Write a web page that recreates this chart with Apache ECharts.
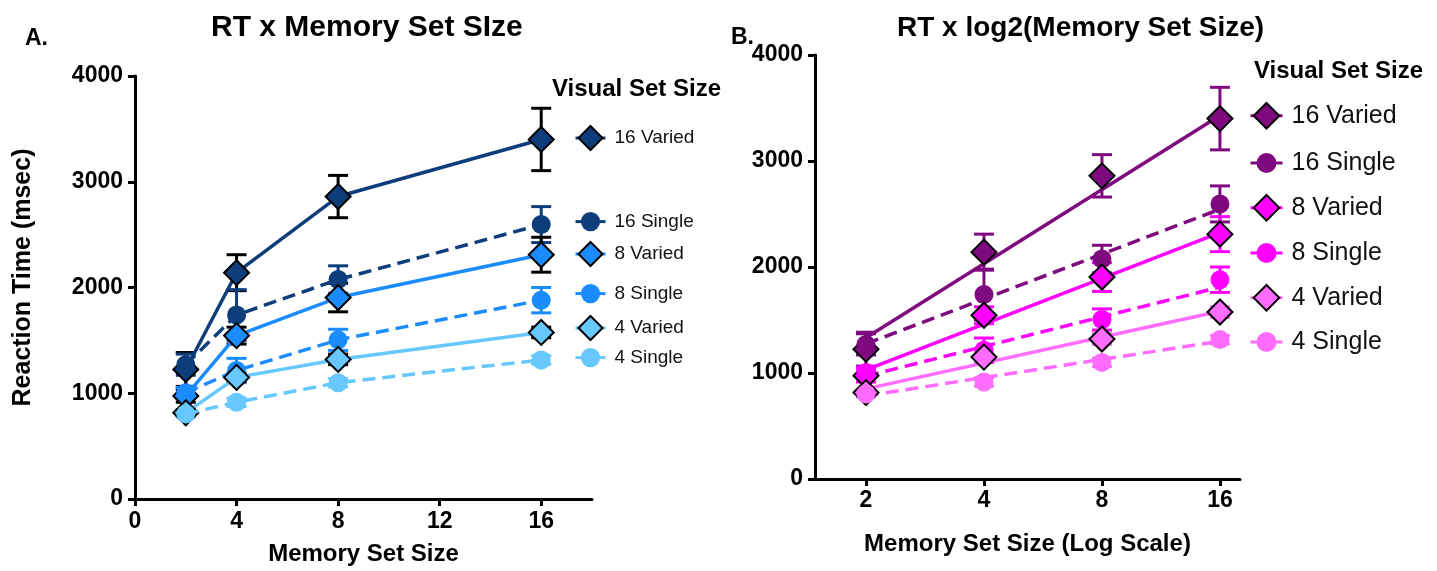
<!DOCTYPE html>
<html>
<head>
<meta charset="utf-8">
<script src="https://cdn.jsdelivr.net/npm/echarts@6/dist/echarts.min.js"></script>
<style>
html,body{margin:0;padding:0;background:#fff;}
#c{width:1437px;height:571px;}
</style>
</head>
<body>
<div id="c"></div>
<script>
// ---------------- DATA ----------------
const memorySizes = [2, 4, 8, 16];
const groupNames = ['16 Varied', '16 Single', '8 Varied', '8 Single', '4 Varied', '4 Single'];

// mean reaction times (msec)
const rt16Varied = [1225, 2140, 2860, 3400];
const rt16Single = [1270, 1740, 2075, 2595];
const rt8Varied  = [975, 1545, 1905, 2310];
const rt8Single  = [1005, 1215, 1505, 1880];
const rt4Varied  = [815, 1150, 1320, 1575];
const rt4Single  = [805, 915, 1100, 1315];

// error bar half-lengths (msec)
const err16Varied = [160, 170, 200, 295];
const err16Single = [100, 240, 130, 170];
const err8Varied  = [60, 80, 135, 165];
const err8Single  = [50, 115, 100, 120];
const err4Varied  = [30, 40, 50, 50];
const err4Single  = [30, 40, 40, 40];

// panel B fitted line values at memory size 2 and 16
const fit16Varied = [1333, 3430];
const fit16Single = [1275, 2545];
const fit8Varied  = [1030, 2325];
const fit8Single  = [970, 1810];
const fit4Varied  = [850, 1582];
const fit4Single  = [785, 1300];

const xTicksA = [0, 4, 8, 12, 16];
const xTicksB = [2, 4, 8, 16];

// ---------------- STYLE ----------------
const FONT = 'Liberation Sans, Arial, sans-serif';
const colorsA = ['#0d3d7a', '#0d3d7a', '#1a8cff', '#1a8cff', '#66c8ff', '#66c8ff'];
const colorsB = ['#7f0a7f', '#7f0a7f', '#ff00ff', '#ff00ff', '#ff6cff', '#ff6cff'];
const isVaried = [true, false, true, false, true, false];
const rts = [rt16Varied, rt16Single, rt8Varied, rt8Single, rt4Varied, rt4Single];
const errs = [err16Varied, err16Single, err8Varied, err8Single, err4Varied, err4Single];
const fits = [fit16Varied, fit16Single, fit8Varied, fit8Single, fit4Varied, fit4Single];

const legendTopA = [140, 224, 256, 296, 330, 360];
const legendTopB = [118, 163, 210, 253, 300, 342];

function errorBarSeries(name, xIdx, data, color) {
  return {
    type: 'custom', name: name, xAxisIndex: xIdx, yAxisIndex: xIdx, z: 1,
    data: data, encode: {x: 0, y: 1}, silent: true,
    renderItem: function (params, api) {
      const x = api.value(0), y = api.value(1), e = api.value(2);
      const t = api.coord([x, y + e]);
      const b = api.coord([x, y - e]);
      const hw = 10;
      const st = {stroke: color, lineWidth: 3};
      return {type: 'group', children: [
        {type: 'line', shape: {x1: t[0], y1: t[1], x2: b[0], y2: b[1]}, style: st},
        {type: 'line', shape: {x1: t[0] - hw, y1: t[1], x2: t[0] + hw, y2: t[1]}, style: st},
        {type: 'line', shape: {x1: b[0] - hw, y1: b[1], x2: b[0] + hw, y2: b[1]}, style: st}
      ]};
    }
  };
}

const series = [];
const legends = [];

// Panel A
groupNames.forEach(function (g, i) {
  const xs = memorySizes;
  const col = colorsA[i];
  series.push(errorBarSeries('errA' + i, 0,
    xs.map(function (x, k) { return [x, rts[i][k], errs[i][k]]; }),
    isVaried[i] ? '#000' : col));
  series.push({
    type: 'line', name: 'A:' + g, xAxisIndex: 0, yAxisIndex: 0, z: 2 + i,
    data: xs.map(function (x, k) { return [x, rts[i][k]]; }),
    symbol: isVaried[i] ? 'diamond' : 'circle',
    symbolSize: isVaried[i] ? 25 : 19,
    itemStyle: isVaried[i] ? {color: col, borderColor: '#000', borderWidth: 2} : {color: col, borderWidth: 0},
    lineStyle: {color: col, width: 3.5, type: isVaried[i] ? 'solid' : [13, 7]},
    emphasis: {disabled: true}, animation: false
  });
  const ih = isVaried[i] ? 30 : 24;
  legends.push({
    data: [{name: 'A:' + g, lineStyle: {width: 3, type: 'solid', opacity: 1}}],
    formatter: function (n) { return n.slice(2); },
    left: 574, top: legendTopA[i] - ih / 2, itemWidth: 30, itemHeight: ih,
    padding: 0, selectedMode: false,
    textStyle: {fontFamily: FONT, fontSize: 19, color: '#111', padding: [0, 0, 0, 4]}
  });
});

// Panel B
groupNames.forEach(function (g, i) {
  const xs = memorySizes.map(function (v) { return Math.log2(v); });
  const col = colorsB[i];
  series.push({
    type: 'line', name: 'fitB' + i, xAxisIndex: 1, yAxisIndex: 1, z: 2 + i,
    data: [[xs[0], fits[i][0]], [xs[xs.length - 1], fits[i][1]]],
    symbol: 'none',
    lineStyle: {color: col, width: 3.5, type: isVaried[i] ? 'solid' : [13, 7]},
    emphasis: {disabled: true}, animation: false, silent: true
  });
  series.push(errorBarSeries('errB' + i, 1,
    xs.map(function (x, k) { return [x, rts[i][k], errs[i][k]]; }), col));
  series.push({
    type: 'line', name: 'B:' + g, xAxisIndex: 1, yAxisIndex: 1, z: 10 + i,
    data: xs.map(function (x, k) { return [x, rts[i][k]]; }),
    symbol: isVaried[i] ? 'diamond' : 'circle',
    symbolSize: isVaried[i] ? 25 : 19,
    itemStyle: isVaried[i] ? {color: col, borderColor: '#000', borderWidth: 2} : {color: col, borderWidth: 0},
    lineStyle: {color: col, width: 3, opacity: 0},
    emphasis: {disabled: true}, animation: false
  });
  const ih = isVaried[i] ? 32 : 25;
  legends.push({
    data: [{name: 'B:' + g, lineStyle: {width: 3, type: 'solid', opacity: 1, color: col}}],
    formatter: function (n) { return n.slice(2); },
    left: 1249, top: legendTopB[i] - ih / 2, itemWidth: 32, itemHeight: ih,
    padding: 0, selectedMode: false,
    textStyle: {fontFamily: FONT, fontSize: 25, color: '#111', padding: [0, 0, 0, 4]}
  });
});

const axisLabel = {fontFamily: FONT, fontSize: 23, fontWeight: 'bold', color: '#000'};
const axisLine = {show: true, lineStyle: {color: '#000', width: 3}};
const axisTick = {show: true, length: 7, lineStyle: {color: '#000', width: 3}};
const nameStyle = {fontFamily: FONT, fontSize: 24, fontWeight: 'bold', color: '#000'};

const option = {
  backgroundColor: '#fff',
  animation: false,
  title: [
    {text: 'A.', left: 20, top: 22, textStyle: {fontFamily: FONT, fontSize: 23, fontWeight: 'bold', color: '#000'}},
    {text: 'B.', left: 726, top: 21, textStyle: {fontFamily: FONT, fontSize: 23, fontWeight: 'bold', color: '#000'}},
    {text: 'RT x Memory Set SIze', left: 206, top: 8, textStyle: {fontFamily: FONT, fontSize: 30, fontWeight: 'bold', color: '#000'}},
    {text: 'RT x log2(Memory Set Size)', left: 892, top: 9, textStyle: {fontFamily: FONT, fontSize: 28, fontWeight: 'bold', color: '#000'}},
    {text: 'Visual Set Size', left: 547, top: 72, textStyle: {fontFamily: FONT, fontSize: 24, fontWeight: 'bold', color: '#000'}},
    {text: 'Visual Set Size', left: 1249, top: 54, textStyle: {fontFamily: FONT, fontSize: 24, fontWeight: 'bold', color: '#000'}}
  ],
  legend: legends,
  grid: [
    {left: 135, right: 845, top: 76, bottom: 71, containLabel: false},
    {left: 815, right: 197, top: 55, bottom: 92, containLabel: false}
  ],
  xAxis: [
    {
      type: 'value', gridIndex: 0, min: 0, max: 18,
      axisLine: axisLine, axisTick: Object.assign({customValues: xTicksA}, axisTick),
      axisLabel: Object.assign({customValues: xTicksA, margin: 11, formatter: function (v) { return String(v); }}, axisLabel),
      splitLine: {show: false},
      name: 'Memory Set Size', nameLocation: 'middle', nameGap: 43, nameTextStyle: nameStyle
    },
    {
      type: 'value', gridIndex: 1, min: 0.568, max: 4.17,
      axisLine: axisLine,
      axisTick: Object.assign({customValues: xTicksB.map(function (v) { return Math.log2(v); })}, axisTick),
      axisLabel: Object.assign({customValues: xTicksB.map(function (v) { return Math.log2(v); }), margin: 10,
        formatter: function (v) { return String(Math.round(Math.pow(2, v))); }}, axisLabel),
      splitLine: {show: false},
      name: 'Memory Set Size (Log Scale)', nameLocation: 'middle', nameGap: 53, nameTextStyle: nameStyle
    }
  ],
  yAxis: [
    {
      type: 'value', gridIndex: 0, min: 0, max: 4000, interval: 1000,
      axisLine: axisLine, axisTick: axisTick,
      axisLabel: Object.assign({margin: 12, formatter: function (v) { return String(v); }}, axisLabel),
      splitLine: {show: false},
      name: 'Reaction Time (msec)', nameLocation: 'middle', nameGap: 99, nameRotate: 90,
      nameTextStyle: Object.assign({}, nameStyle, {fontSize: 25, padding: [0, 0, 0, 20]})
    },
    {
      type: 'value', gridIndex: 1, min: 0, max: 4000, interval: 1000,
      axisLine: axisLine, axisTick: axisTick,
      axisLabel: Object.assign({margin: 12, formatter: function (v) { return String(v); }}, axisLabel),
      splitLine: {show: false}
    }
  ],
  series: series
};

const chart = echarts.init(document.getElementById('c'), null, {renderer: 'canvas'});
chart.setOption(option);
</script>
</body>
</html>
